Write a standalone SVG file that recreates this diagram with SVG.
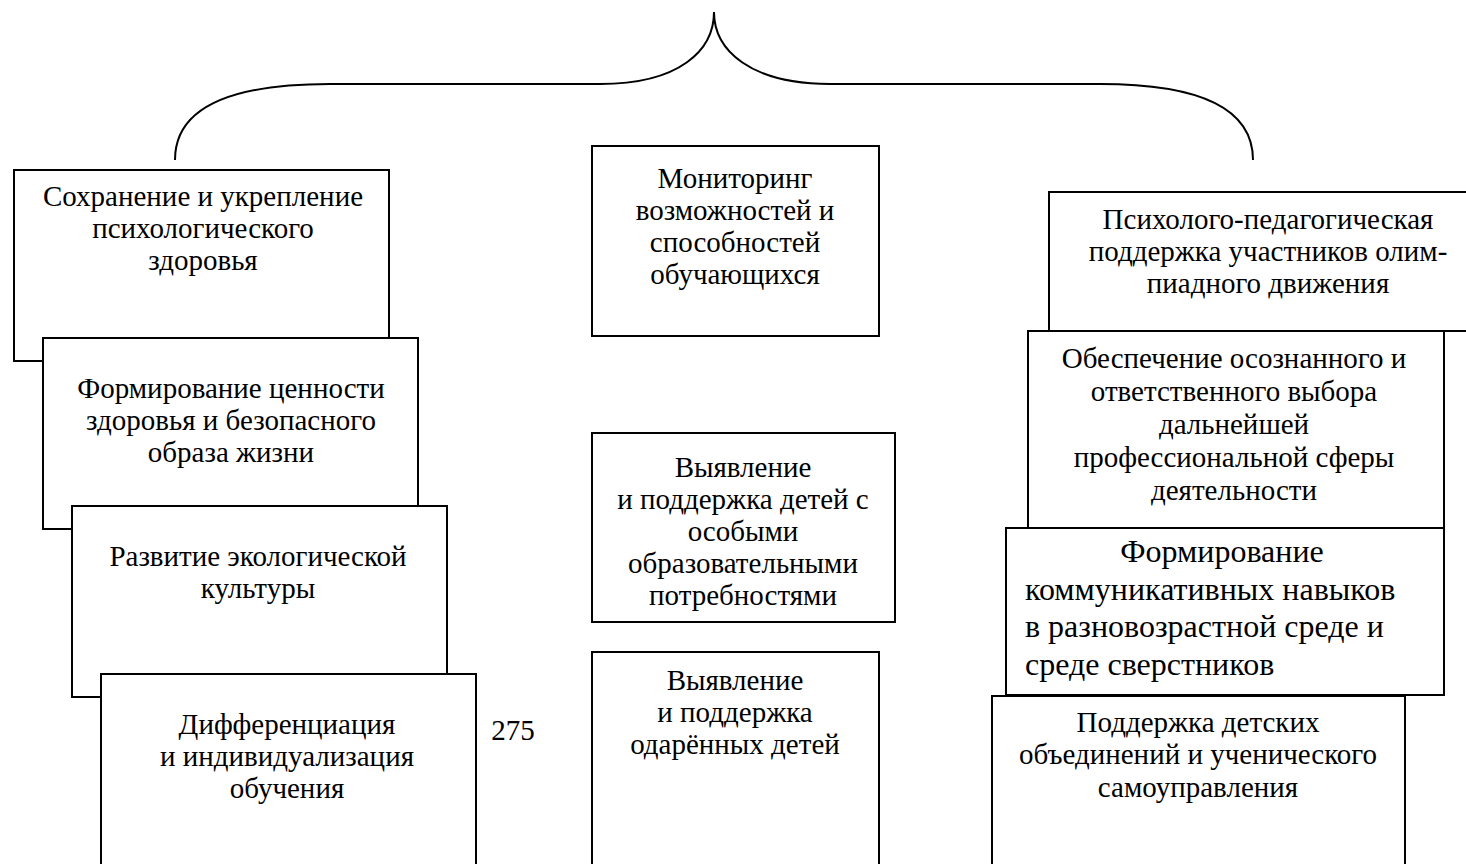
<svg xmlns="http://www.w3.org/2000/svg" width="1466" height="864" viewBox="0 0 1466 864">
<style>
.box{fill:#fff;stroke:#000;stroke-width:2}
.t{font-family:"Liberation Serif","Times New Roman",serif;font-size:29px;fill:#000;text-anchor:middle}
.big{font-size:32px}
.brace{fill:none;stroke:#000;stroke-width:2}
</style>
<rect width="1466" height="864" fill="#fff"/>
<g id="connectors">
<path class="brace" d="M175 160 C175 112 222 84 330 84 L600 84 C680 84 714 50 714 12"/>
<path class="brace" d="M714 12 C714 50 750 84 830 84 L1100 84 C1208 84 1253 112 1253 160"/>
</g>
<g id="L1"><rect class="box" x="14" y="170" width="375" height="191"/>
<text class="t"><tspan x="203" y="206">Сохранение и укрепление</tspan><tspan x="203" y="238">психологического</tspan><tspan x="203" y="270">здоровья</tspan></text></g>
<g id="L2"><rect class="box" x="43" y="338" width="375" height="191"/>
<text class="t"><tspan x="231" y="398">Формирование ценности</tspan><tspan x="231" y="430">здоровья и безопасного</tspan><tspan x="231" y="462">образа жизни</tspan></text></g>
<g id="L3"><rect class="box" x="72" y="506" width="375" height="191"/>
<text class="t"><tspan x="258" y="566">Развитие экологической</tspan><tspan x="258" y="598">культуры</tspan></text></g>
<g id="L4"><rect class="box" x="101" y="674" width="375" height="210"/>
<text class="t"><tspan x="287" y="734">Дифференциация</tspan><tspan x="287" y="766">и индивидуализация</tspan><tspan x="287" y="798">обучения</tspan></text></g>
<g id="pagenum"><text class="t" x="513" y="740">275</text></g>
<g id="M1"><rect class="box" x="592" y="146" width="287" height="190"/>
<text class="t"><tspan x="735" y="188">Мониторинг</tspan><tspan x="735" y="220">возможностей и</tspan><tspan x="735" y="252">способностей</tspan><tspan x="735" y="284">обучающихся</tspan></text></g>
<g id="M2"><rect class="box" x="592" y="433" width="303" height="189"/>
<text class="t"><tspan x="743" y="477">Выявление</tspan><tspan x="743" y="509">и поддержка детей с</tspan><tspan x="743" y="541">особыми</tspan><tspan x="743" y="573">образовательными</tspan><tspan x="743" y="605">потребностями</tspan></text></g>
<g id="M3"><rect class="box" x="592" y="652" width="287" height="232"/>
<text class="t"><tspan x="735" y="690">Выявление</tspan><tspan x="735" y="722">и поддержка</tspan><tspan x="735" y="754">одарённых детей</tspan></text></g>
<g id="R1"><rect class="box" x="1049" y="192" width="440" height="139"/>
<text class="t"><tspan x="1268" y="229">Психолого-педагогическая</tspan><tspan x="1268" y="261">поддержка участников олим-</tspan><tspan x="1268" y="293">пиадного движения</tspan></text></g>
<g id="R2"><rect class="box" x="1028" y="331" width="416" height="197"/>
<text class="t"><tspan x="1234" y="368">Обеспечение осознанного и</tspan><tspan x="1234" y="401">ответственного выбора</tspan><tspan x="1234" y="434">дальнейшей</tspan><tspan x="1234" y="467">профессиональной сферы</tspan><tspan x="1234" y="500">деятельности</tspan></text></g>
<g id="R3"><rect class="box" x="1006" y="528" width="438" height="167"/>
<text class="t big"><tspan x="1222" y="562">Формирование</tspan><tspan x="1025" y="600" text-anchor="start">коммуникативных навыков</tspan><tspan x="1025" y="637" text-anchor="start">в разновозрастной среде и</tspan><tspan x="1025" y="675" text-anchor="start">среде сверстников</tspan></text></g>
<g id="R4"><rect class="box" x="992" y="696" width="413" height="190"/>
<text class="t"><tspan x="1198" y="732">Поддержка детских</tspan><tspan x="1198" y="764">объединений и ученического</tspan><tspan x="1198" y="797">самоуправления</tspan></text></g>
</svg>
